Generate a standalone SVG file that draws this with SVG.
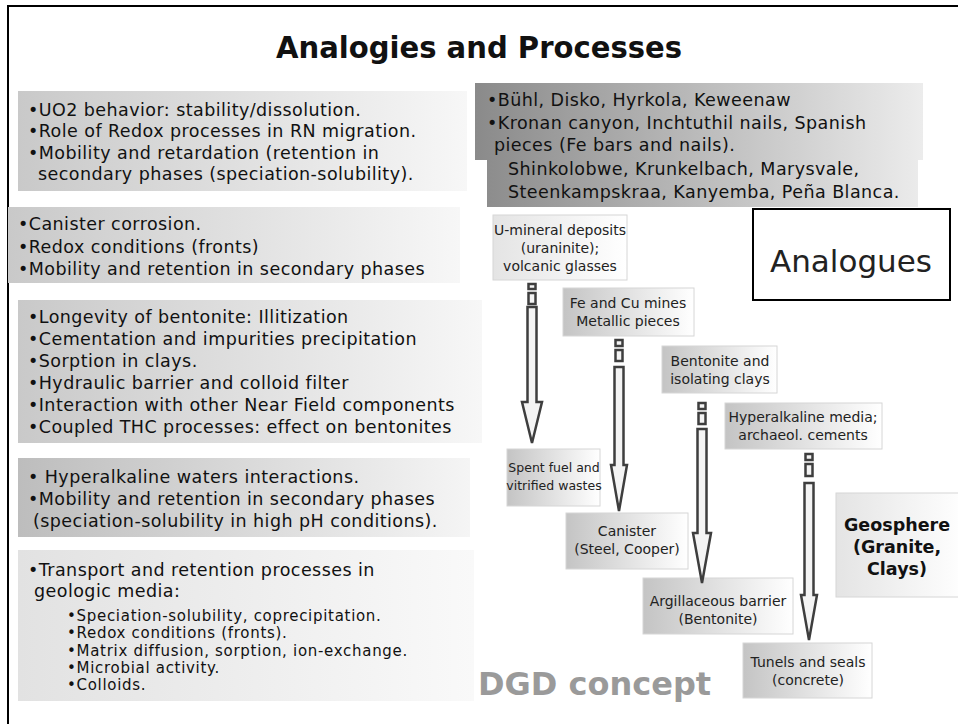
<svg xmlns="http://www.w3.org/2000/svg" width="958" height="724" viewBox="0 0 958 724">
<defs>
<linearGradient id="gL" x1="0" y1="0" x2="1" y2="0"><stop offset="0" stop-color="#c9c9c9"/><stop offset="1" stop-color="#f7f7f7"/></linearGradient>
<linearGradient id="gL2" x1="0" y1="0" x2="1" y2="0"><stop offset="0" stop-color="#bdbdbd"/><stop offset="1" stop-color="#f5f5f5"/></linearGradient>
<linearGradient id="gL3" x1="0" y1="0" x2="1" y2="0"><stop offset="0" stop-color="#e2e2e2"/><stop offset="1" stop-color="#f9f9f9"/></linearGradient>
<linearGradient id="gTop" x1="0" y1="0" x2="1" y2="0"><stop offset="0" stop-color="#8a8a8a"/><stop offset="1" stop-color="#ececec"/></linearGradient>
<linearGradient id="gN" x1="0" y1="0" x2="1" y2="0"><stop offset="0" stop-color="#c4c4c4"/><stop offset="1" stop-color="#ffffff"/></linearGradient>
<linearGradient id="gN2" x1="0" y1="0" x2="1" y2="0"><stop offset="0" stop-color="#e4e4e4"/><stop offset="1" stop-color="#ffffff"/></linearGradient>
</defs>
<style>
.t{font-family:"DejaVu Sans",Verdana,sans-serif;font-size:17.5px;letter-spacing:0.44px;fill:#111}
.s{font-family:"DejaVu Sans",Verdana,sans-serif;font-size:15px;letter-spacing:0.7px;fill:#111}
.n{font-family:"DejaVu Sans",Verdana,sans-serif;font-size:14px;fill:#222;text-anchor:middle}
.nb{stroke:#d6d6d6;stroke-width:1}
.ar{fill:#f4f4f4;stroke:#3e3e3e;stroke-width:2.5;stroke-linejoin:miter}
</style>
<rect width="958" height="724" fill="#fff"/>
<g id="frame" fill="none" stroke="#000" stroke-width="2"><path d="M8,724 V6 H958"/></g>
<text id="title" x="479" y="58" text-anchor="middle" font-family="DejaVu Sans,Verdana,sans-serif" font-weight="bold" font-size="30" textLength="406" lengthAdjust="spacingAndGlyphs" fill="#111">Analogies and Processes</text>

<g id="box1"><rect x="18" y="91" width="449" height="100" fill="url(#gL)"/>
<text class="t" x="28" y="116">•UO2 behavior: stability/dissolution.</text>
<text class="t" x="28" y="137">•Role of Redox processes in RN migration.</text>
<text class="t" x="28" y="159">•Mobility and retardation (retention in</text>
<text class="t" x="38" y="180">secondary phases (speciation-solubility).</text></g>

<g id="box2"><rect x="8" y="207" width="452" height="76" fill="url(#gL)"/>
<text class="t" x="18" y="230">•Canister corrosion.</text>
<text class="t" x="18" y="253">•Redox conditions (fronts)</text>
<text class="t" x="18" y="275">•Mobility and retention in secondary phases</text></g>

<g id="box3"><rect x="18" y="300" width="464" height="143" fill="url(#gL)"/>
<text class="t" x="28" y="323">•Longevity of bentonite: Illitization</text>
<text class="t" x="28" y="345">•Cementation and impurities precipitation</text>
<text class="t" x="28" y="367">•Sorption in clays.</text>
<text class="t" x="28" y="389">•Hydraulic barrier and colloid filter</text>
<text class="t" x="28" y="411">•Interaction with other Near Field components</text>
<text class="t" x="28" y="433">•Coupled THC processes: effect on bentonites</text></g>

<g id="box4"><rect x="18" y="458" width="452" height="79" fill="url(#gL2)"/>
<text class="t" x="28" y="483">• Hyperalkaline waters interactions.</text>
<text class="t" x="28" y="505">•Mobility and retention in secondary phases</text>
<text class="t" x="33" y="527">(speciation-solubility in high pH conditions).</text></g>

<g id="box5"><rect x="18" y="550" width="456" height="151" fill="url(#gL3)"/>
<text class="t" x="28" y="576">•Transport and retention processes in</text>
<text class="t" x="34" y="597">geologic media:</text>
<text class="s" x="67" y="621">•Speciation-solubility, coprecipitation.</text>
<text class="s" x="67" y="638">•Redox conditions (fronts).</text>
<text class="s" x="67" y="656">•Matrix diffusion, sorption, ion-exchange.</text>
<text class="s" x="67" y="673">•Microbial activity.</text>
<text class="s" x="67" y="690">•Colloids.</text></g>

<g id="sites"><path d="M475,83 H923 V160 H918 V207 H487 V160 H475 Z" fill="url(#gTop)"/>
<text class="t" x="487" y="106">•Bühl, Disko, Hyrkola, Keweenaw</text>
<text class="t" x="487" y="129">•Kronan canyon, Inchtuthil nails, Spanish</text>
<text class="t" x="494" y="151">pieces (Fe bars and nails).</text>
<text class="t" x="508" y="175">Shinkolobwe, Krunkelbach, Marysvale,</text>
<text class="t" x="508" y="198">Steenkampskraa, Kanyemba, Peña Blanca.</text></g>

<g id="analogues"><rect x="753" y="209" width="197" height="91" fill="#fff" stroke="#000" stroke-width="2"/>
<text x="851" y="272" text-anchor="middle" font-family="DejaVu Sans,Verdana,sans-serif" font-size="31" fill="#222">Analogues</text></g>

<g id="n-umineral"><rect class="nb" x="493" y="215" width="134" height="65" fill="url(#gN2)"/>
<text class="n" x="560" y="235">U-mineral deposits</text><text class="n" x="560" y="253">(uraninite);</text><text class="n" x="560" y="271">volcanic glasses</text></g>
<g id="n-fecu"><rect class="nb" x="563" y="288" width="131" height="48" fill="url(#gN)"/>
<text class="n" x="628" y="308">Fe and Cu mines</text><text class="n" x="628" y="326">Metallic pieces</text></g>
<g id="n-bent"><rect class="nb" x="662" y="346" width="115" height="47" fill="url(#gN)"/>
<text class="n" x="720" y="366">Bentonite and</text><text class="n" x="720" y="384">isolating clays</text></g>
<g id="n-hyper"><rect class="nb" x="725" y="403" width="157" height="46" fill="url(#gN)"/>
<text class="n" x="803" y="422">Hyperalkaline media;</text><text class="n" x="803" y="440">archaeol. cements</text></g>

<g id="n-spent"><rect class="nb" x="507" y="449" width="93" height="57" fill="url(#gN)"/>
<text class="n" x="554" y="472" style="font-size:12.5px">Spent fuel and</text><text class="n" x="554" y="490" style="font-size:12.5px">vitrified wastes</text></g>
<g id="n-canister"><rect class="nb" x="566" y="513" width="122" height="56" fill="url(#gN)"/>
<text class="n" x="627" y="536">Canister</text><text class="n" x="627" y="554">(Steel, Cooper)</text></g>
<g id="n-argil"><rect class="nb" x="643" y="578" width="150" height="56" fill="url(#gN)"/>
<text class="n" x="718" y="606">Argillaceous barrier</text><text class="n" x="718" y="624">(Bentonite)</text></g>
<g id="n-tunels"><rect class="nb" x="743" y="643" width="129" height="55" fill="url(#gN)"/>
<text class="n" x="808" y="667">Tunels and seals</text><text class="n" x="808" y="685">(concrete)</text></g>
<g id="n-geo"><rect class="nb" x="836" y="493" width="130" height="104" fill="url(#gN2)"/>
<text x="897" y="531" text-anchor="middle" font-family="DejaVu Sans,Verdana,sans-serif" font-weight="bold" font-size="17.5" fill="#111">Geosphere</text>
<text x="897" y="553" text-anchor="middle" font-family="DejaVu Sans,Verdana,sans-serif" font-weight="bold" font-size="17.5" fill="#111">(Granite,</text>
<text x="897" y="575" text-anchor="middle" font-family="DejaVu Sans,Verdana,sans-serif" font-weight="bold" font-size="17.5" fill="#111">Clays)</text></g>

<text id="dgd" x="478" y="695" font-family="DejaVu Sans,Verdana,sans-serif" font-weight="bold" font-size="32" fill="#9a9a9a">DGD concept</text>

<g id="connectors">
<rect class="ar" x="528.5" y="284" width="7" height="5" stroke-width="2"/>
<rect class="ar" x="528.5" y="293" width="7" height="11" stroke-width="2"/>
<path class="ar" d="M527.5,307 H536.5 V402 H542 L532,443 L522,402 H527.5 Z"/>
<rect class="ar" x="615.5" y="340" width="7" height="6" stroke-width="2"/>
<rect class="ar" x="615.5" y="350" width="7" height="11" stroke-width="2"/>
<path class="ar" d="M614.5,367 H623.5 V465 H627 L619,511 L611,465 H614.5 Z"/>
<rect class="ar" x="698.5" y="403" width="7" height="6" stroke-width="2"/>
<rect class="ar" x="698.5" y="413" width="7" height="11" stroke-width="2"/>
<path class="ar" d="M697.5,429 H706.5 V533 H711 L702,583 L693,533 H697.5 Z"/>
<rect class="ar" x="805.5" y="454" width="7" height="6" stroke-width="2"/>
<rect class="ar" x="805.5" y="464" width="7" height="12" stroke-width="2"/>
<path class="ar" d="M804.5,483 H813.5 V595 H817 L809,640 L801,595 H804.5 Z"/>
</g>
</svg>
